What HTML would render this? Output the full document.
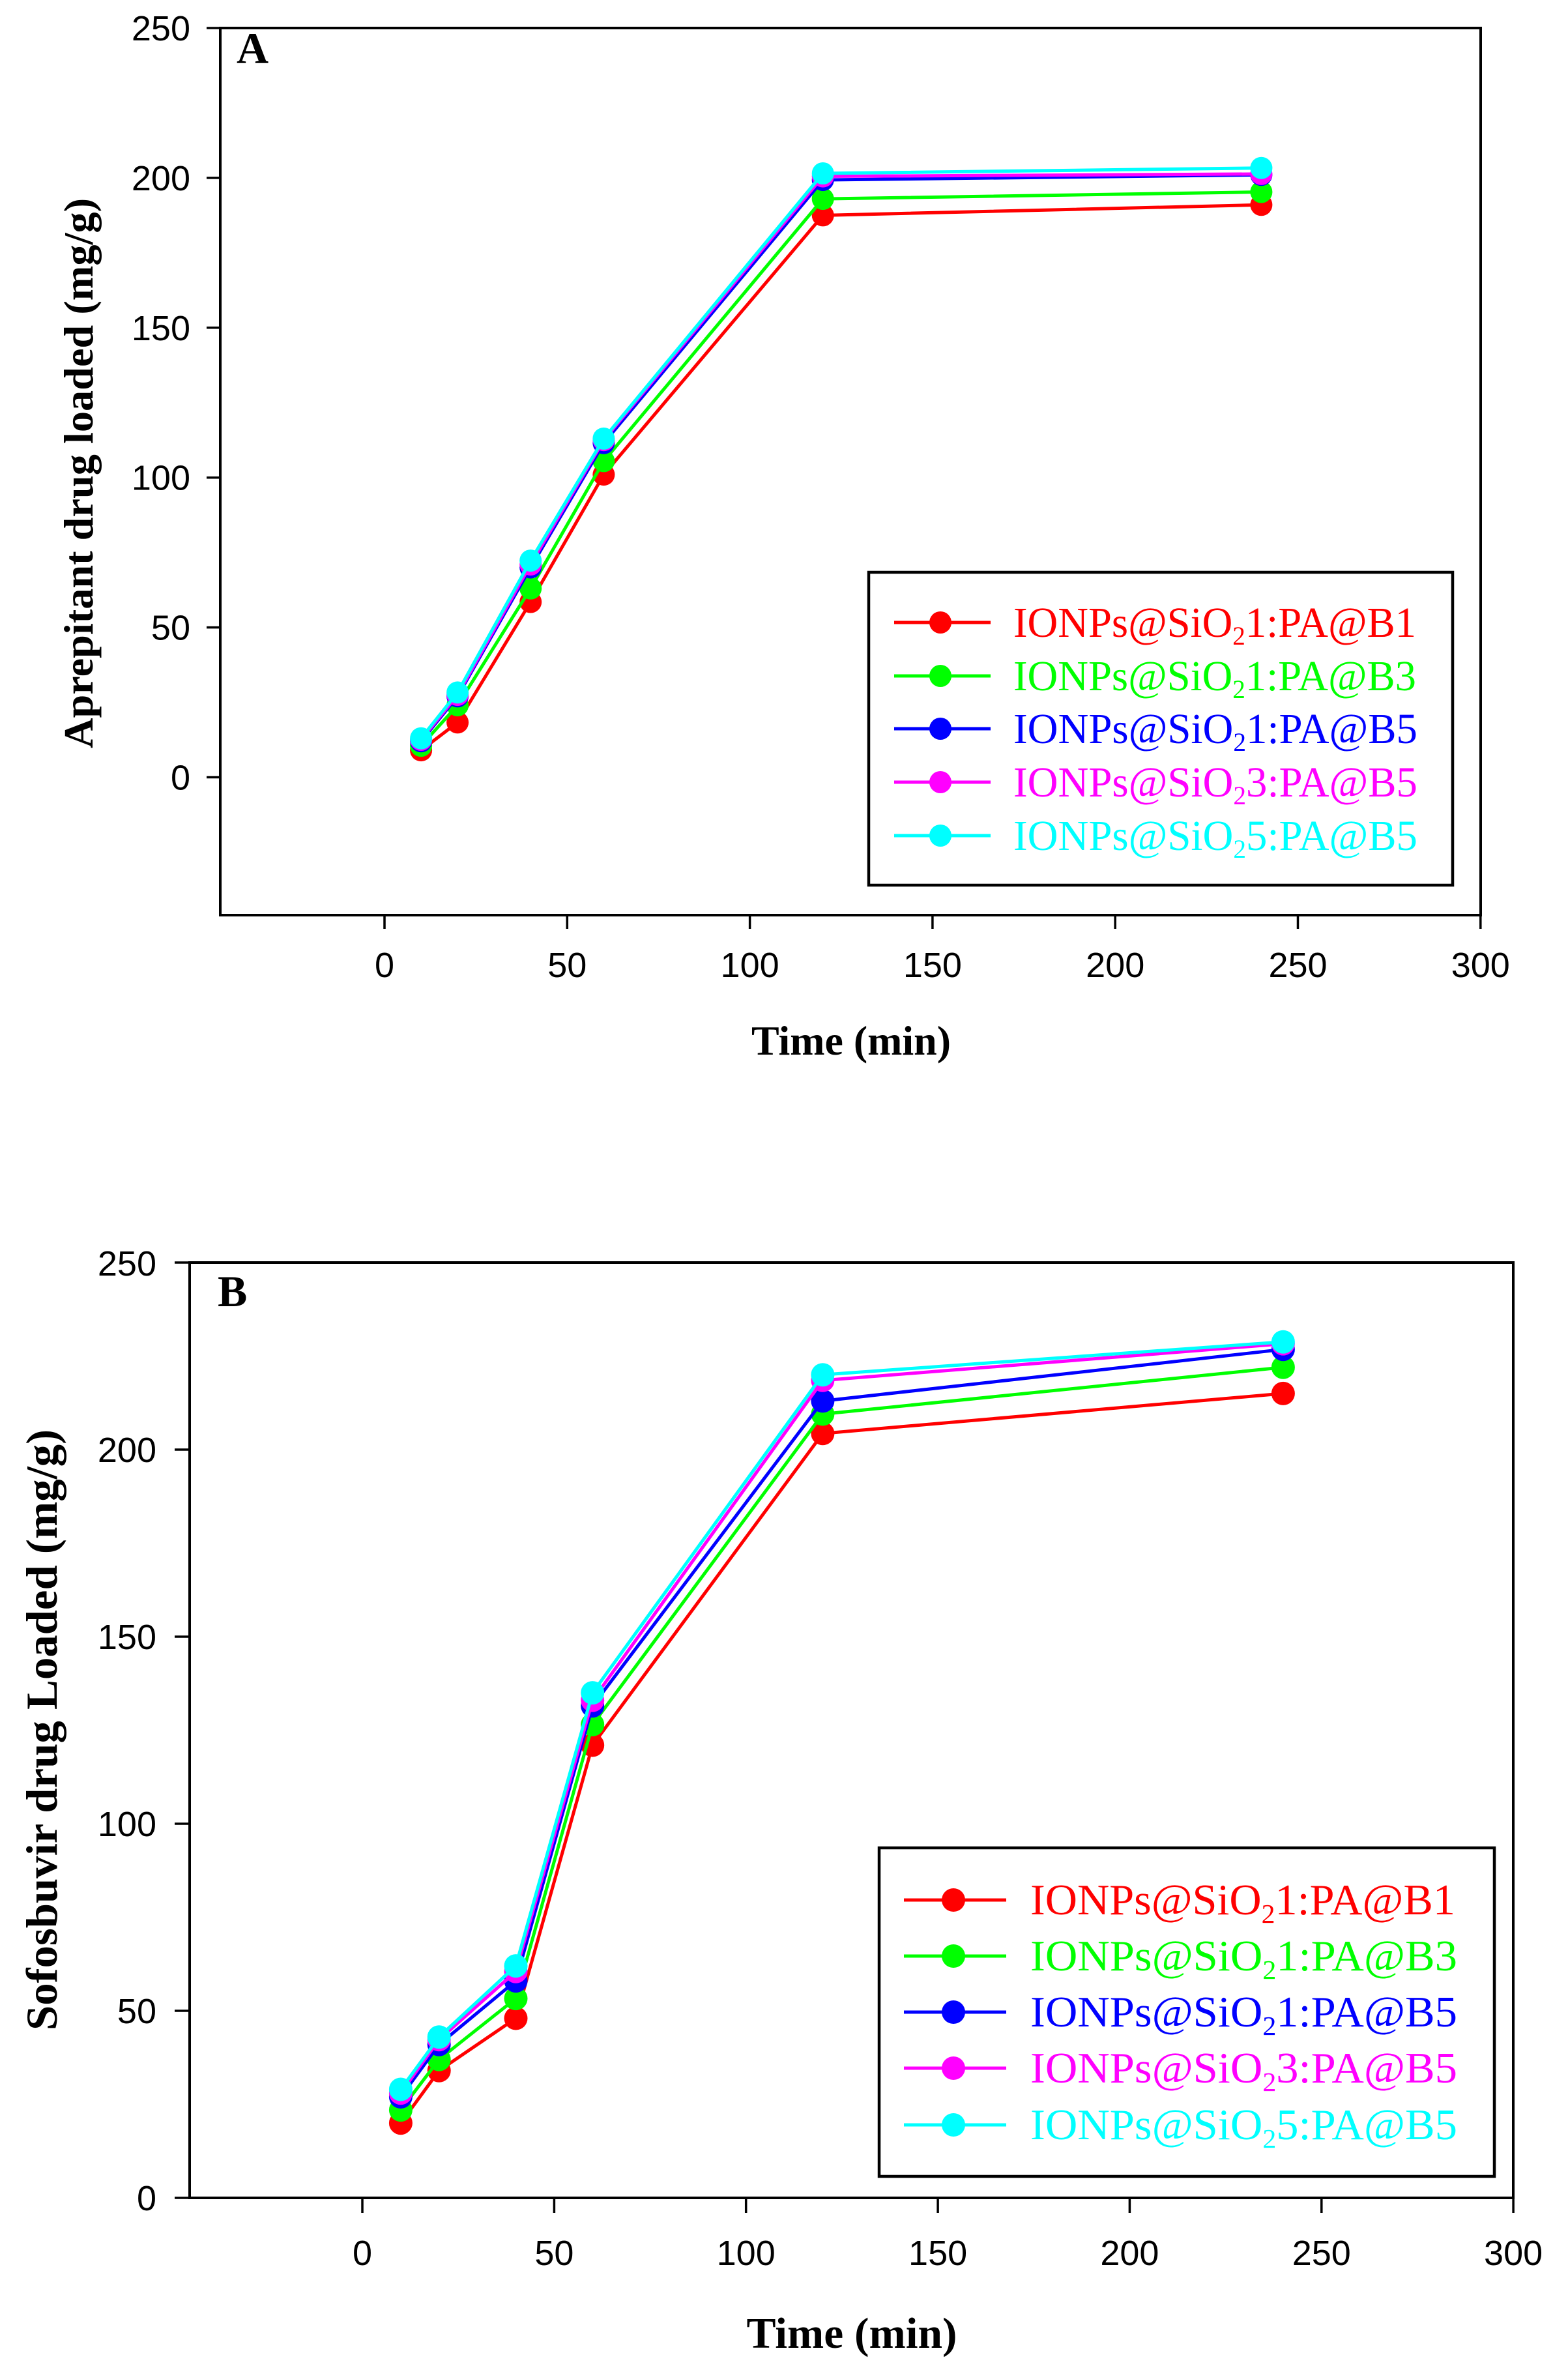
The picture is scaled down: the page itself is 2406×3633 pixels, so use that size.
<!DOCTYPE html>
<html><head><meta charset="utf-8"><style>
html,body{margin:0;padding:0;background:#fff;}
svg{display:block;}
.tk{font-family:"Liberation Sans",Arial,sans-serif;font-size:54px;fill:#000;}
.ttl{font-family:"Liberation Serif","Times New Roman",serif;font-weight:bold;fill:#000;}
.lg{font-family:"Liberation Serif","Times New Roman",serif;}
</style></head><body>
<svg width="2406" height="3633" viewBox="0 0 2406 3633" xmlns="http://www.w3.org/2000/svg">
<rect x="0" y="0" width="2406" height="3633" fill="#fff"/>

<!-- ================= PANEL A ================= -->
<rect x="338" y="43" width="1934" height="1361" fill="none" stroke="#000" stroke-width="4"/>
<g stroke="#000" stroke-width="3.5">
<line x1="317" y1="1192.5" x2="338" y2="1192.5"/>
<line x1="317" y1="962.6" x2="338" y2="962.6"/>
<line x1="317" y1="732.7" x2="338" y2="732.7"/>
<line x1="317" y1="502.8" x2="338" y2="502.8"/>
<line x1="317" y1="272.9" x2="338" y2="272.9"/>
<line x1="317" y1="43" x2="338" y2="43"/>
<line x1="590" y1="1404" x2="590" y2="1425"/>
<line x1="870.3" y1="1404" x2="870.3" y2="1425"/>
<line x1="1150.6" y1="1404" x2="1150.6" y2="1425"/>
<line x1="1430.9" y1="1404" x2="1430.9" y2="1425"/>
<line x1="1711.2" y1="1404" x2="1711.2" y2="1425"/>
<line x1="1991.5" y1="1404" x2="1991.5" y2="1425"/>
<line x1="2271.8" y1="1404" x2="2271.8" y2="1425"/>
</g>
<g class="tk" text-anchor="end">
<text x="292" y="1211.5">0</text>
<text x="292" y="981.6">50</text>
<text x="292" y="751.7">100</text>
<text x="292" y="521.8">150</text>
<text x="292" y="291.9">200</text>
<text x="292" y="62">250</text>
</g>
<g class="tk" text-anchor="middle">
<text x="590" y="1499">0</text>
<text x="870.3" y="1499">50</text>
<text x="1150.6" y="1499">100</text>
<text x="1430.9" y="1499">150</text>
<text x="1711.2" y="1499">200</text>
<text x="1991.5" y="1499">250</text>
<text x="2271.8" y="1499">300</text>
</g>
<text class="ttl" x="363" y="97" font-size="68">A</text>
<text class="ttl" x="1306" y="1618" font-size="64" text-anchor="middle" textLength="306" lengthAdjust="spacingAndGlyphs">Time (min)</text>
<text class="ttl" transform="translate(142,726) rotate(-90)" x="0" y="0" font-size="64" text-anchor="middle" textLength="844" lengthAdjust="spacingAndGlyphs">Aprepitant drug loaded (mg/g)</text>

<!-- series A -->
<g stroke-width="5" fill="none" stroke-linejoin="round">
<polyline stroke="#ff0000" points="646.1,1151.1 702.1,1108.4 814.2,923.5 926.4,728.1 1262.7,330.4 1935.4,314.3"/>
</g>
<g fill="#ff0000"><circle cx="646.1" cy="1151.1" r="17"/><circle cx="702.1" cy="1108.4" r="17"/><circle cx="814.2" cy="923.5" r="17"/><circle cx="926.4" cy="728.1" r="17"/><circle cx="1262.7" cy="330.4" r="17"/><circle cx="1935.4" cy="314.3" r="17"/></g>
<polyline stroke="#00ff00" stroke-width="5" fill="none" points="646.1,1144.2 702.1,1082.1 814.2,902.8 926.4,707.4 1262.7,305.1 1935.4,294.5"/>
<g fill="#00ff00"><circle cx="646.1" cy="1144.2" r="17"/><circle cx="702.1" cy="1082.1" r="17"/><circle cx="814.2" cy="902.8" r="17"/><circle cx="926.4" cy="707.4" r="17"/><circle cx="1262.7" cy="305.1" r="17"/><circle cx="1935.4" cy="294.5" r="17"/></g>
<polyline stroke="#0000ff" stroke-width="5" fill="none" points="646.1,1137.3 702.1,1068.4 814.2,870.6 926.4,679.8 1262.7,276.1 1935.4,268.3"/>
<g fill="#0000ff"><circle cx="646.1" cy="1137.3" r="17"/><circle cx="702.1" cy="1068.4" r="17"/><circle cx="814.2" cy="870.6" r="17"/><circle cx="926.4" cy="679.8" r="17"/><circle cx="1262.7" cy="276.1" r="17"/><circle cx="1935.4" cy="268.3" r="17"/></g>
<polyline stroke="#ff00ff" stroke-width="5" fill="none" points="646.1,1135 702.1,1066.1 814.2,866 926.4,675.2 1262.7,270.6 1935.4,266.9"/>
<g fill="#ff00ff"><circle cx="646.1" cy="1135" r="17"/><circle cx="702.1" cy="1066.1" r="17"/><circle cx="814.2" cy="866" r="17"/><circle cx="926.4" cy="675.2" r="17"/><circle cx="1262.7" cy="270.6" r="17"/><circle cx="1935.4" cy="266.9" r="17"/></g>
<polyline stroke="#00ffff" stroke-width="5" fill="none" points="646.1,1132.7 702.1,1062.4 814.2,860.1 926.4,672.9 1262.7,266 1935.4,257.7"/>
<g fill="#00ffff"><circle cx="646.1" cy="1132.7" r="17"/><circle cx="702.1" cy="1062.4" r="17"/><circle cx="814.2" cy="860.1" r="17"/><circle cx="926.4" cy="672.9" r="17"/><circle cx="1262.7" cy="266" r="17"/><circle cx="1935.4" cy="257.7" r="17"/></g>

<!-- legend A -->
<rect x="1333" y="878" width="896" height="480" fill="#fff" stroke="#000" stroke-width="4.5"/>
<g stroke-width="5">
<line x1="1372" y1="955" x2="1520" y2="955" stroke="#ff0000"/>
<line x1="1372" y1="1037" x2="1520" y2="1037" stroke="#00ff00"/>
<line x1="1372" y1="1118" x2="1520" y2="1118" stroke="#0000ff"/>
<line x1="1372" y1="1200" x2="1520" y2="1200" stroke="#ff00ff"/>
<line x1="1372" y1="1282" x2="1520" y2="1282" stroke="#00ffff"/>
</g>
<circle cx="1443" cy="955" r="17" fill="#ff0000"/>
<circle cx="1443" cy="1037" r="17" fill="#00ff00"/>
<circle cx="1443" cy="1118" r="17" fill="#0000ff"/>
<circle cx="1443" cy="1200" r="17" fill="#ff00ff"/>
<circle cx="1443" cy="1282" r="17" fill="#00ffff"/>
<g class="lg" font-size="66">
<text x="1555" y="977" fill="#ff0000" textLength="618" lengthAdjust="spacingAndGlyphs">IONPs@SiO<tspan font-size="40" dy="12">2</tspan><tspan dy="-12">1:PA@B1</tspan></text>
<text x="1555" y="1059" fill="#00ff00" textLength="618" lengthAdjust="spacingAndGlyphs">IONPs@SiO<tspan font-size="40" dy="12">2</tspan><tspan dy="-12">1:PA@B3</tspan></text>
<text x="1555" y="1140" fill="#0000ff" textLength="620" lengthAdjust="spacingAndGlyphs">IONPs@SiO<tspan font-size="40" dy="12">2</tspan><tspan dy="-12">1:PA@B5</tspan></text>
<text x="1555" y="1222" fill="#ff00ff" textLength="620" lengthAdjust="spacingAndGlyphs">IONPs@SiO<tspan font-size="40" dy="12">2</tspan><tspan dy="-12">3:PA@B5</tspan></text>
<text x="1555" y="1304" fill="#00ffff" textLength="620" lengthAdjust="spacingAndGlyphs">IONPs@SiO<tspan font-size="40" dy="12">2</tspan><tspan dy="-12">5:PA@B5</tspan></text>
</g>

<!-- ================= PANEL B ================= -->
<rect x="291" y="1937" width="2031" height="1435" fill="none" stroke="#000" stroke-width="4"/>
<g stroke="#000" stroke-width="3.5">
<line x1="268" y1="3372" x2="291" y2="3372"/>
<line x1="268" y1="3085" x2="291" y2="3085"/>
<line x1="268" y1="2798" x2="291" y2="2798"/>
<line x1="268" y1="2511" x2="291" y2="2511"/>
<line x1="268" y1="2224" x2="291" y2="2224"/>
<line x1="268" y1="1937" x2="291" y2="1937"/>
<line x1="556" y1="3372" x2="556" y2="3395"/>
<line x1="850.4" y1="3372" x2="850.4" y2="3395"/>
<line x1="1144.7" y1="3372" x2="1144.7" y2="3395"/>
<line x1="1439.1" y1="3372" x2="1439.1" y2="3395"/>
<line x1="1733.4" y1="3372" x2="1733.4" y2="3395"/>
<line x1="2027.8" y1="3372" x2="2027.8" y2="3395"/>
<line x1="2322.1" y1="3372" x2="2322.1" y2="3395"/>
</g>
<g class="tk" text-anchor="end">
<text x="240" y="3391">0</text>
<text x="240" y="3104">50</text>
<text x="240" y="2817">100</text>
<text x="240" y="2530">150</text>
<text x="240" y="2243">200</text>
<text x="240" y="1957">250</text>
</g>
<g class="tk" text-anchor="middle">
<text x="556" y="3475">0</text>
<text x="850.4" y="3475">50</text>
<text x="1144.7" y="3475">100</text>
<text x="1439.1" y="3475">150</text>
<text x="1733.4" y="3475">200</text>
<text x="2027.8" y="3475">250</text>
<text x="2322.1" y="3475">300</text>
</g>
<text class="ttl" x="334" y="2004" font-size="68">B</text>
<text class="ttl" x="1307" y="3602" font-size="67" text-anchor="middle" textLength="323" lengthAdjust="spacingAndGlyphs">Time (min)</text>
<text class="ttl" transform="translate(87,2654) rotate(-90)" x="0" y="0" font-size="68" text-anchor="middle" textLength="922" lengthAdjust="spacingAndGlyphs">Sofosbuvir drug Loaded (mg/g)</text>

<!-- series B -->
<polyline stroke="#ff0000" stroke-width="5" fill="none" points="614.9,3257.2 673.7,3176.8 791.5,3096.5 909.2,2677.5 1262.4,2199.3 1968.9,2137.9"/>
<g fill="#ff0000"><circle cx="614.9" cy="3257.2" r="18"/><circle cx="673.7" cy="3176.8" r="18"/><circle cx="791.5" cy="3096.5" r="18"/><circle cx="909.2" cy="2677.5" r="18"/><circle cx="1262.4" cy="2199.3" r="18"/><circle cx="1968.9" cy="2137.9" r="18"/></g>
<polyline stroke="#00ff00" stroke-width="5" fill="none" points="614.9,3237.1 673.7,3159.6 791.5,3066.1 909.2,2645.9 1262.4,2169.5 1968.9,2097.7"/>
<g fill="#00ff00"><circle cx="614.9" cy="3237.1" r="18"/><circle cx="673.7" cy="3159.6" r="18"/><circle cx="791.5" cy="3066.1" r="18"/><circle cx="909.2" cy="2645.9" r="18"/><circle cx="1262.4" cy="2169.5" r="18"/><circle cx="1968.9" cy="2097.7" r="18"/></g>
<polyline stroke="#0000ff" stroke-width="5" fill="none" points="614.9,3217 673.7,3136.7 791.5,3039.1 909.2,2617.2 1262.4,2149.4 1968.9,2070.2"/>
<g fill="#0000ff"><circle cx="614.9" cy="3217" r="18"/><circle cx="673.7" cy="3136.7" r="18"/><circle cx="791.5" cy="3039.1" r="18"/><circle cx="909.2" cy="2617.2" r="18"/><circle cx="1262.4" cy="2149.4" r="18"/><circle cx="1968.9" cy="2070.2" r="18"/></g>
<polyline stroke="#ff00ff" stroke-width="5" fill="none" points="614.9,3211.3 673.7,3129.2 791.5,3024.7 909.2,2608.6 1262.4,2117.8 1968.9,2061.6"/>
<g fill="#ff00ff"><circle cx="614.9" cy="3211.3" r="18"/><circle cx="673.7" cy="3129.2" r="18"/><circle cx="791.5" cy="3024.7" r="18"/><circle cx="909.2" cy="2608.6" r="18"/><circle cx="1262.4" cy="2117.8" r="18"/><circle cx="1968.9" cy="2061.6" r="18"/></g>
<polyline stroke="#00ffff" stroke-width="5" fill="none" points="614.9,3205.5 673.7,3125.2 791.5,3016.1 909.2,2597.1 1262.4,2109.2 1968.9,2058.7"/>
<g fill="#00ffff"><circle cx="614.9" cy="3205.5" r="18"/><circle cx="673.7" cy="3125.2" r="18"/><circle cx="791.5" cy="3016.1" r="18"/><circle cx="909.2" cy="2597.1" r="18"/><circle cx="1262.4" cy="2109.2" r="18"/><circle cx="1968.9" cy="2058.7" r="18"/></g>

<!-- legend B -->
<rect x="1349" y="2835" width="944" height="504" fill="#fff" stroke="#000" stroke-width="4.5"/>
<g stroke-width="5">
<line x1="1387" y1="2915" x2="1544" y2="2915" stroke="#ff0000"/>
<line x1="1387" y1="3001" x2="1544" y2="3001" stroke="#00ff00"/>
<line x1="1387" y1="3087" x2="1544" y2="3087" stroke="#0000ff"/>
<line x1="1387" y1="3173" x2="1544" y2="3173" stroke="#ff00ff"/>
<line x1="1387" y1="3260" x2="1544" y2="3260" stroke="#00ffff"/>
</g>
<circle cx="1463" cy="2915" r="18" fill="#ff0000"/>
<circle cx="1463" cy="3001" r="18" fill="#00ff00"/>
<circle cx="1463" cy="3087" r="18" fill="#0000ff"/>
<circle cx="1463" cy="3173" r="18" fill="#ff00ff"/>
<circle cx="1463" cy="3260" r="18" fill="#00ffff"/>
<g class="lg" font-size="67">
<text x="1581" y="2937" fill="#ff0000" textLength="652" lengthAdjust="spacingAndGlyphs">IONPs@SiO<tspan font-size="41" dy="13">2</tspan><tspan dy="-13">1:PA@B1</tspan></text>
<text x="1581" y="3023" fill="#00ff00" textLength="655" lengthAdjust="spacingAndGlyphs">IONPs@SiO<tspan font-size="41" dy="13">2</tspan><tspan dy="-13">1:PA@B3</tspan></text>
<text x="1581" y="3109" fill="#0000ff" textLength="655" lengthAdjust="spacingAndGlyphs">IONPs@SiO<tspan font-size="41" dy="13">2</tspan><tspan dy="-13">1:PA@B5</tspan></text>
<text x="1581" y="3195" fill="#ff00ff" textLength="655" lengthAdjust="spacingAndGlyphs">IONPs@SiO<tspan font-size="41" dy="13">2</tspan><tspan dy="-13">3:PA@B5</tspan></text>
<text x="1581" y="3282" fill="#00ffff" textLength="655" lengthAdjust="spacingAndGlyphs">IONPs@SiO<tspan font-size="41" dy="13">2</tspan><tspan dy="-13">5:PA@B5</tspan></text>
</g>
</svg>
</body></html>
